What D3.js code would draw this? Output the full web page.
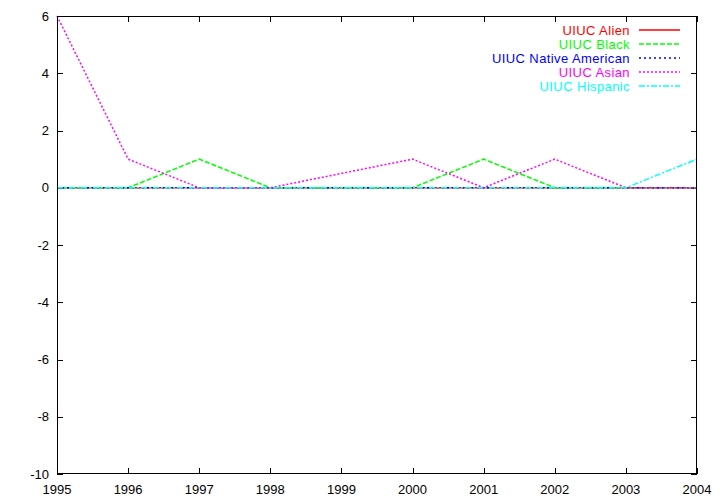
<!DOCTYPE html>
<html><head><meta charset="utf-8">
<script src="https://cdn.jsdelivr.net/npm/d3@7"></script>
<style>body{margin:0;background:#fff}svg{display:block}text{font-family:"Liberation Sans",Arial,sans-serif}</style>
</head><body><svg id="c" width="720" height="504"></svg>
<script>
const years = [1995,1996,1997,1998,1999,2000,2001,2002,2003,2004];
const seriesNames = ["UIUC Alien","UIUC Black","UIUC Native American","UIUC Asian","UIUC Hispanic"];
const alien    = [0,0,0,0,0,0,0,0,0,0];
const black    = [0,0,1,0,0,0,1,0,0,0];
const native   = [0,0,0,0,0,0,0,0,0,0];
const asian    = [6,1,0,0,null,1,0,1,0,0];
const hispanic = [0,0,0,0,0,0,0,0,0,1];
const yTicks = [-10,-8,-6,-4,-2,0,2,4,6];
const xTicks = years;

const colors = ["#ff0000","#00ff00","#0000ff","#ff00ff","#00ffff"];
const dashes = [null,"5,2","2,3","2,2","6,2,2,2"];
const values = [alien,black,native,asian,hispanic];

const svg = d3.select("#c");
const L=57, R=697, T=16, B=474;
const x = d3.scaleLinear().domain([1995,2004]).range([L,R]);
const y = d3.scaleLinear().domain([-10,6]).range([B,T]);

const fs = 13;
// y tick labels
svg.append("g").selectAll("text").data(yTicks).join("text")
  .attr("x", L-8).attr("y", d=>y(d)).attr("dy","0.35em")
  .attr("text-anchor","end").attr("font-size",fs).attr("fill","#000").text(d=>d);
// x tick labels
svg.append("g").selectAll("text").data(xTicks).join("text")
  .attr("x", d=>x(d)).attr("y", B+15).attr("dy","0.35em")
  .attr("text-anchor","middle").attr("font-size",fs).attr("fill","#000").text(d=>d);

// ticks (inward, mirrored)
const tk = svg.append("g").attr("stroke","#000").attr("stroke-width",1);
yTicks.forEach(v=>{
  const yy = Math.round(y(v))+0.5;
  tk.append("line").attr("x1",L).attr("x2",L+6).attr("y1",yy).attr("y2",yy);
  tk.append("line").attr("x1",R-6).attr("x2",R).attr("y1",yy).attr("y2",yy);
});
xTicks.forEach(v=>{
  const xx = Math.round(x(v))+0.5;
  tk.append("line").attr("x1",xx).attr("x2",xx).attr("y1",B).attr("y2",B-6);
  tk.append("line").attr("x1",xx).attr("x2",xx).attr("y1",T).attr("y2",T+6);
});

// series
const line = d3.line().defined(d=>d[1]!==null).x(d=>x(d[0])).y(d=>y(d[1]));
values.forEach((vals,i)=>{
  const pts = years.map((yr,j)=>[yr,vals[j]]).filter(d=>d[1]!==null);
  svg.append("path").datum(pts).attr("d",line)
    .attr("fill","none").attr("stroke",colors[i]).attr("stroke-width",1.5)
    .attr("stroke-dasharray",dashes[i]);
});

// frame
svg.append("rect").attr("x",L+0.5).attr("y",T+0.5).attr("width",R-L-1).attr("height",B-T-1)
  .attr("fill","none").attr("stroke","#000").attr("stroke-width",1);

// legend
const lg = svg.append("g");
seriesNames.forEach((n,i)=>{
  const yy = 30 + i*14;
  lg.append("text").attr("x",630).attr("y",yy).attr("dy","0.35em")
    .attr("text-anchor","end").attr("font-size",fs).attr("letter-spacing","0.4px")
    .attr("fill",colors[i]).text(n);
  lg.append("line").attr("x1",639).attr("x2",680).attr("y1",yy).attr("y2",yy)
    .attr("stroke",colors[i]).attr("stroke-width",1.5).attr("stroke-dasharray",dashes[i]);
});
</script></body></html>
